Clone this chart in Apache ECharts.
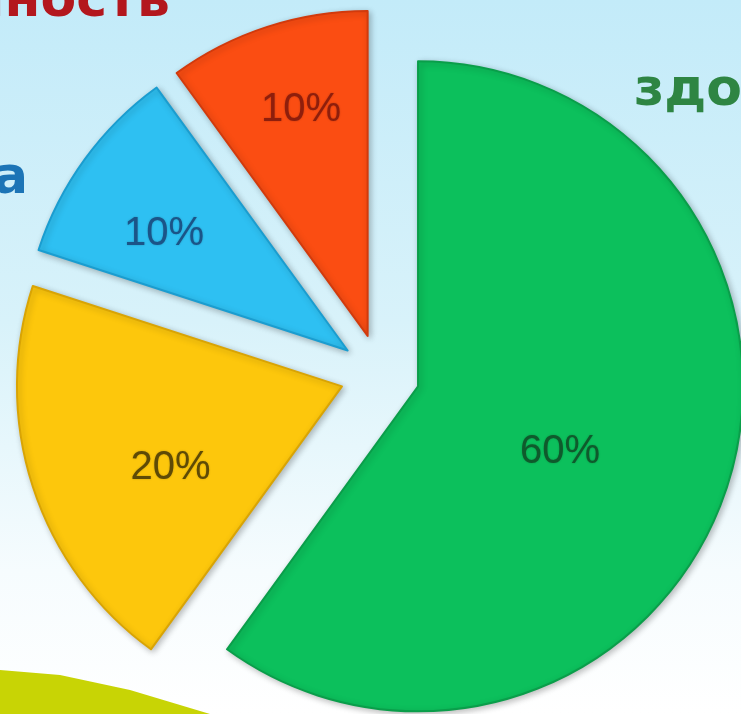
<!DOCTYPE html>
<html>
<head>
<meta charset="utf-8">
<style>
html,body{margin:0;padding:0;width:741px;height:714px;overflow:hidden;}
#c{width:741px;height:714px;}
</style>
<script src="https://cdn.jsdelivr.net/npm/echarts@6/dist/echarts.min.js"></script>
</head>
<body>
<div id="c"></div>
<script>
// Data
var categories = ['здоровый образ жизни', 'экология', 'медицина', 'наследственность'];
var values = [60, 20, 10, 10];
var labels = ['60%', '20%', '10%', '10%'];

// Styles
var fills = ['#0cc05c', '#fdc70c', '#2ec0f2', '#fb4d12'];
var edges = ['#0a9e4a', '#d9a404', '#1a9dd0', '#d23a0c'];
var textColors = ['#0f5a2c', '#5e4a06', '#1b5488', '#8e1e0c'];
var labelShift = [[75, 66], [-9, 0], [-29, 15], [29, -63]];

var chart = echarts.init(document.getElementById('c'), null, {renderer: 'canvas'});

var data = values.map(function (v, i) {
  var st = {
    color: fills[i],
    borderColor: edges[i],
    borderWidth: 2,
    shadowBlur: 6,
    shadowOffsetX: 2,
    shadowOffsetY: 2,
    shadowColor: 'rgba(0,0,0,0.25)'
  };
  var lb = {
    show: true,
    position: 'inside',
    offset: labelShift[i],
    formatter: labels[i],
    color: textColors[i],
    fontSize: 40,
    fontFamily: 'Liberation Sans, Arial, sans-serif',
    textShadowColor: 'rgba(0,0,0,0.25)',
    textShadowBlur: 2
  };
  return {
    name: categories[i],
    value: v,
    selected: true,
    itemStyle: st,
    label: lb,
    select: {itemStyle: st, label: lb},
    emphasis: {disabled: true}
  };
});

var titleFont = 'bold 52px "DejaVu Sans", sans-serif';
var option = {
  animation: false,
  backgroundColor: {
    type: 'linear', x: 0, y: 0, x2: 0, y2: 1,
    colorStops: [
      {offset: 0, color: '#c3ebf9'},
      {offset: 0.45, color: '#d8f2fa'},
      {offset: 0.8, color: '#f6fcfe'},
      {offset: 1, color: '#ffffff'}
    ]
  },
  graphic: [
    {
      type: 'polygon', silent: true, z: 0,
      shape: {points: [[0, 670], [60, 675], [130, 690], [210, 714], [0, 714]]},
      style: {fill: '#c8d405'}
    },
    {
      type: 'text', x: 170, y: -24, z: 10,
      style: {text: categories[3], fill: '#b3171d', align: 'right', font: titleFont}
    },
    {
      type: 'text', x: 28, y: 153, z: 10,
      style: {text: categories[2], fill: '#1c74b6', align: 'right', font: titleFont}
    },
    {
      type: 'text', x: 634, y: 65, z: 10,
      style: {text: categories[0], fill: '#2e8543', align: 'left', font: titleFont}
    }
  ],
  series: [{
    type: 'pie',
    center: [380, 374],
    radius: [0, 325],
    startAngle: 90,
    clockwise: true,
    selectedMode: 'multiple',
    selectedOffset: 40,
    avoidLabelOverlap: false,
    labelLine: {show: false},
    data: data
  }]
};
chart.setOption(option);
</script>
</body>
</html>
